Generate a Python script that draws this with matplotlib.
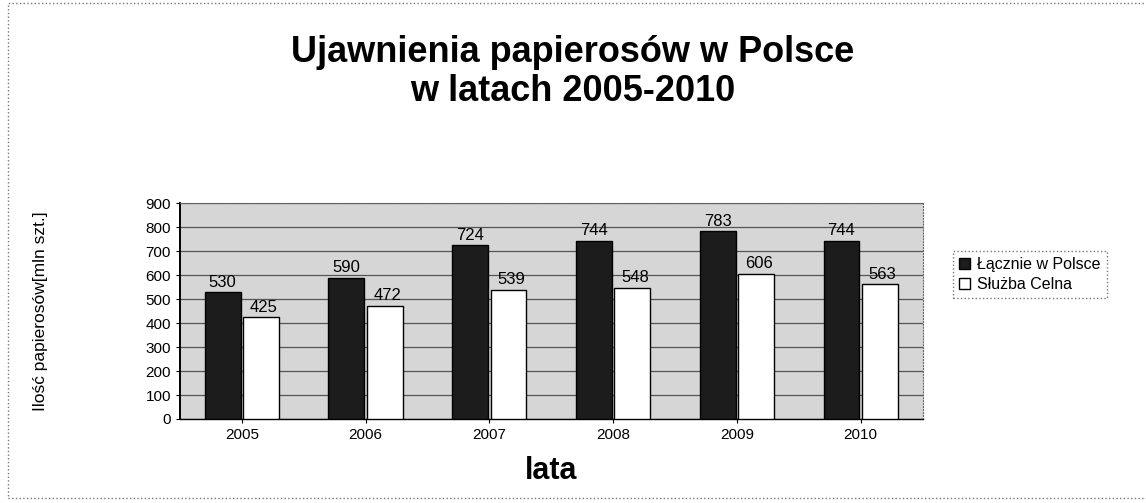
import numpy as np
import matplotlib
matplotlib.use("Agg")
import matplotlib.pyplot as plt

plt.rcParams['font.family'] = ['Liberation Sans', 'DejaVu Sans']

years = ['2005', '2006', '2007', '2008', '2009', '2010']
total_pl = [530, 590, 724, 744, 783, 744]
customs = [425, 472, 539, 548, 606, 563]
series_names = ['Łącznie w Polsce', 'Służba Celna']

fig = plt.figure(figsize=(11.46, 5.03), dpi=100)
ax = fig.add_axes([0.157, 0.167, 0.648, 0.429])

x = np.arange(len(years))
w = 0.29

b1 = ax.bar(x - w / 2 - 0.01, total_pl, w, color='#1c1c1c', edgecolor='black',
            linewidth=1, label=series_names[0], zorder=3)
b2 = ax.bar(x + w / 2 + 0.01, customs, w, color='white', edgecolor='black',
            linewidth=1, label=series_names[1], zorder=3)

for rect, v in zip(b1, total_pl):
    ax.text(rect.get_x() + rect.get_width() / 2, v + 10, str(v),
            ha='center', va='bottom', fontsize=12)
for rect, v in zip(b2, customs):
    ax.text(rect.get_x() + rect.get_width() / 2 + 0.02, v + 10, str(v),
            ha='center', va='bottom', fontsize=12)

ax.set_facecolor('#d6d6d6')
ax.set_ylim(0, 900)
ax.set_xlim(-0.5, len(years) - 0.5)
ax.set_yticks(range(0, 901, 100))
ax.yaxis.grid(True, color='#555555', linewidth=0.9, zorder=0)
ax.set_axisbelow(True)
ax.set_xticks(x)
ax.set_xticklabels(years)
ax.tick_params(labelsize=11, length=3)

for side in ['top', 'right']:
    ax.spines[side].set_linestyle(':')
    ax.spines[side].set_color('#666666')
ax.spines['left'].set_linewidth(1.4)
ax.spines['bottom'].set_linewidth(1)

ax.set_xlabel('lata', fontsize=22, fontweight='bold', labelpad=10)
ax.set_ylabel('Ilość papierosów[mln szt.]', fontsize=12.5, labelpad=70)

fig.suptitle('Ujawnienia papierosów w Polsce\nw latach 2005-2010',
             x=0.50, y=0.857, va='center', fontsize=26, fontweight='bold',
             linespacing=1.13)

leg = ax.legend(loc='center left', bbox_to_anchor=(1.03, 0.67), fontsize=11.5,
                frameon=True, fancybox=False, handlelength=0.7, handleheight=0.7,
                handletextpad=0.4, borderpad=0.4, labelspacing=0.3)
leg.get_frame().set_edgecolor('#555555')
leg.get_frame().set_linestyle(':')
leg.get_frame().set_linewidth(1)

# outer chart border
fig.patches.append(plt.Rectangle((0.007, 0.01), 1.2, 0.985, transform=fig.transFigure,
                                 fill=False, edgecolor='#777777', linestyle=':',
                                 linewidth=1))

fig.savefig('out.png', dpi=100)
